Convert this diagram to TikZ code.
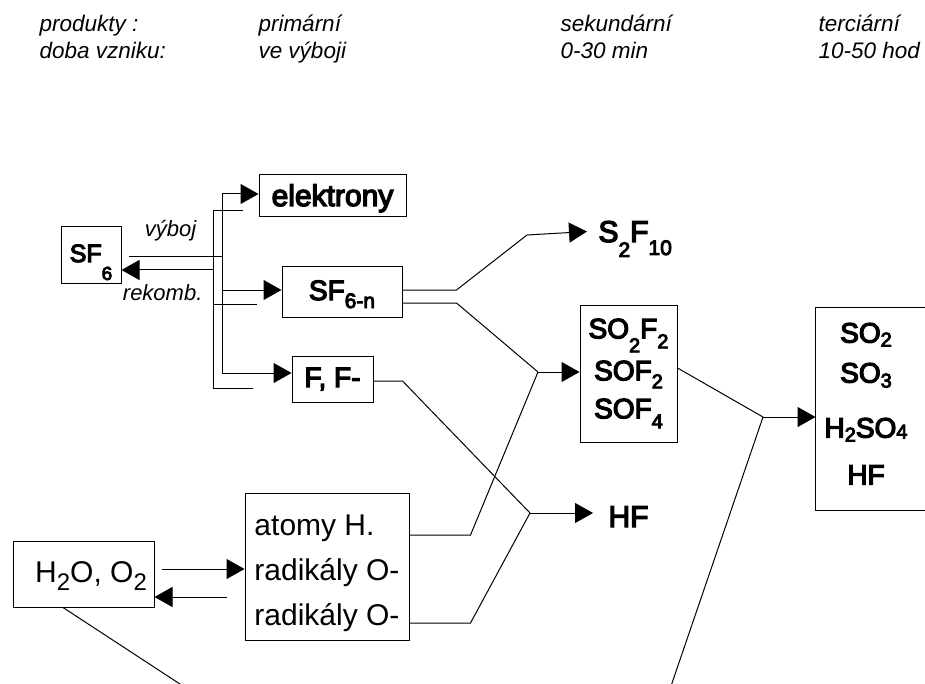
\documentclass[tikz,border=0pt]{standalone}
\usepackage{fontspec}
\setmainfont{Liberation Sans}
\newfontfamily\heavyfont[FakeBold=4.5]{Liberation Sans}
\usetikzlibrary{arrows.meta}
\newcommand{\dn}[3]{\raisebox{-#1pt}{\fontsize{#2}{#2}\selectfont #3}}

\begin{document}
\begin{tikzpicture}[x=1pt,y=-1pt,>={Triangle[length=18pt,width=20pt]},line width=1pt,
    hdr/.style={font=\fontsize{22.5}{26}\selectfont\itshape, inner sep=0pt, anchor=base west},
    lbl/.style={font=\fontsize{22}{26}\selectfont\itshape, inner sep=0pt},
    box/.style={draw, inner sep=0pt},
    heavy/.style={font=\fontsize{#1}{#1}\selectfont\heavyfont},
    plain/.style={font=\fontsize{30}{45}\selectfont}]
        \useasboundingbox (0,0) rectangle (925,684);
        % header
        \node[hdr] (prod) at (39,32) {produkty :};
        \node[hdr] (prim) at (258,32) {primární};
        \node[hdr] (sek) at (560,32) {sekundární};
        \node[hdr] (ter) at (818,32) {terciární};
        \node[hdr] (doba) at (39,59) {doba vzniku:};
        \node[hdr] (vvyb) at (258,59) {ve výboji};
        \node[hdr] (min) at (560,59) {0-30 min};
        \node[hdr] (hod) at (818,59) {10-50 hod};
        % boxes
        \node (sf6) [box, heavy=25, minimum width=60pt, minimum height=57pt, text height=30pt, text depth=17pt] at (91,255.5) {SF\dn{18}{19}{6}};
        \node (elek) [box, heavy=30, minimum width=147pt, minimum height=42pt, text height=24pt, text depth=4pt] at (332.5,196) {elektrony};
        \node (sfn) [box, heavy=28, minimum width=120pt, minimum height=50pt, text height=24pt, text depth=8pt] at (342,292) {SF\dn{8}{21}{6-n}};
        \node (ff) [box, heavy=28, minimum width=81pt, minimum height=46pt, text height=22pt, text depth=6pt] at (332.5,379) {F, F-};
        \node (s2f10) [heavy=30, anchor=base west, inner xsep=11pt, inner ysep=0pt, text depth=0pt] at (587,242) {S\dn{15}{21}{2}F\dn{13}{21}{10}};
        \node (hfm) [heavy=30, anchor=base west, inner xsep=15pt, inner ysep=0pt, text depth=0pt] at (593,527) {HF};
        \node (sof) [box, font=\fontsize{28}{42}\selectfont\heavyfont, align=center, minimum width=97pt, minimum height=137pt] at (628.5,373.5)
            {SO\dn{14}{20}{2}F\dn{10}{20}{2}\\SOF\dn{8}{20}{2}\\[-4pt]SOF\dn{10}{20}{4}};
        \node (final) [font=\fontsize{28}{40}\selectfont\heavyfont, align=center, inner sep=0pt, minimum width=100pt, minimum height=202pt, text depth=10.5pt] at (866,409)
            {SO\dn{4}{20}{2}\\SO\dn{5}{20}{3}\\[15pt]H\dn{4}{20}{2}SO\dn{1}{20}{4}\\[7pt]HF};
        \draw ([xshift=120pt]final.north west) -- (final.north west) -- (final.south west) -- ([xshift=120pt]final.south west);
        \node (h2o) [box, plain, minimum width=141pt, minimum height=66pt, text height=24pt, text depth=8pt] at (83.5,574) {\kern15pt H\dn{8}{24}{2}O, O\dn{8}{24}{2}};
        \node (atoms) [box, plain, align=left, minimum width=164pt, minimum height=147pt, text height=117pt, text depth=0pt] at (327,566.5)
            {atomy H.\\radikály O-\\radikály O-};
        % bus lines
        \coordinate (bus1) at (222,194);
        \coordinate (bus1e) at (222,373);
        \coordinate (bus2) at (213,211);
        \coordinate (bus2e) at (213,388);
        \coordinate (vyb) at (222,257);
        \coordinate (rek) at (213,270);
        \coordinate (bsf) at (222,290);
        \coordinate (rsf) at (213,304);
        \coordinate (kS) at (527,235);
        \coordinate (jS) at (538,372);
        \coordinate (jH) at (530,513);
        \coordinate (jF) at (763,417);
        \coordinate (endL) at (183,686);
        \coordinate (endR) at (671,686);
        \coordinate (hq) at (162,569);
        \coordinate (ar) at (227,597);
        \draw (bus1) -- (bus1e);
        \draw (bus2) -- (bus2e);
        \draw[->] (bus1) -- (bus1 -| elek.west);
        \draw[->] (bsf) -- (bsf -| sfn.west);
        \draw[->] (bus1e) -- (bus1e -| ff.west);
        \draw (bus2) -- ++(30,0);
        \draw (rsf) -- ++(44,0);
        \draw (bus2e) -- ++(40,0);
        \draw (vyb) -- node[lbl, above=15pt, pos=.55]{výboj} ([xshift=7pt]vyb -| sf6.east);
        \draw[->] (rek) -- node[lbl, below=14pt, pos=.55]{rekomb.} (rek -| sf6.east);
        % products
        \draw[->] ([yshift=2pt]sfn.east) -- ++(54,0) -- (kS) -- (s2f10.west);
        \draw ([yshift=-11pt]sfn.east) -- ++(54,0) -- (jS);
        \draw ([yshift=-2pt]ff.east) -- ++(29,0) -- (jH);
        \draw ([yshift=31.5pt]atoms.east) -- ++(61,0) -- (jS);
        \draw ([yshift=-56.5pt]atoms.east) -- ++(61,0) -- (jH);
        \draw[->] (jS) -- (jS -| sof.west);
        \draw[->] (jH) -- (jH -| hfm.west);
        \draw ([yshift=5.5pt]sof.east) -- (jF);
        \draw[->] (jF) -- (jF -| final.west);
        \draw (jF) -- (endR);
        \draw ([xshift=-20.5pt]h2o.south) -- (endL);
        \draw[->] (hq) -- (hq -| atoms.west);
        \draw[->] (ar) -- (ar -| h2o.east);
    \end{tikzpicture}
\end{document}
